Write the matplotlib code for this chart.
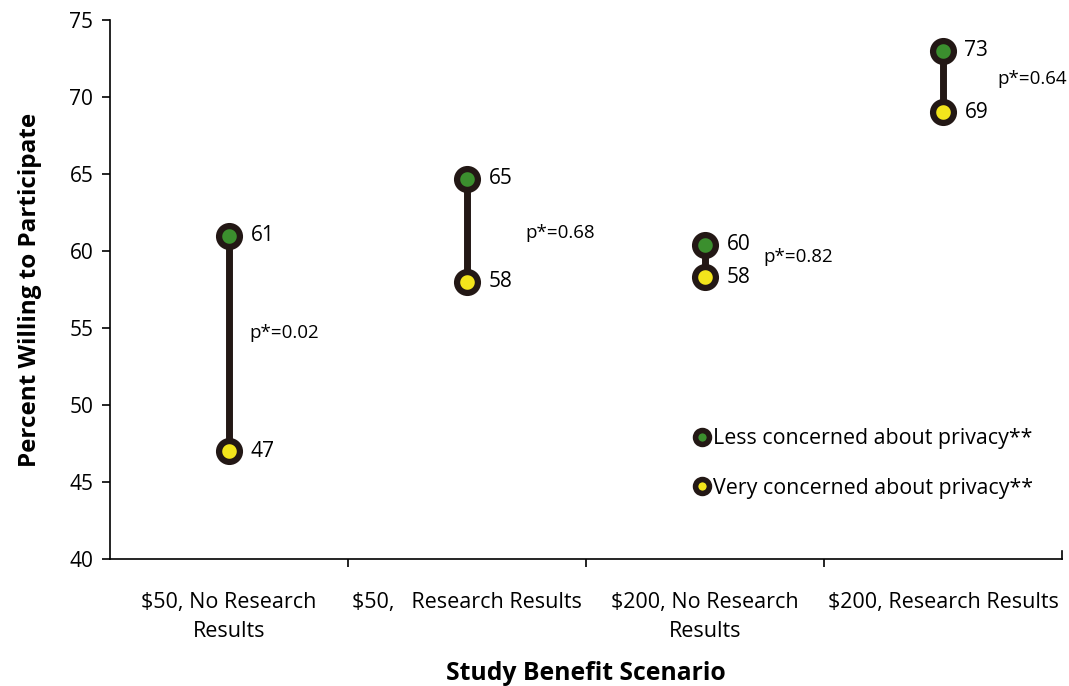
import matplotlib
matplotlib.use("Agg")
import matplotlib.pyplot as plt
from matplotlib.lines import Line2D

plt.rcParams['font.family'] = ['Open Sans', 'DejaVu Sans']

# data
scenarios = ["$50, No Research\nResults", "$50,   Research Results",
             "$200, No Research\nResults", "$200, Research Results"]
less_concerned = [61, 64.7, 60.4, 73]
very_concerned = [47, 58, 58.3, 69]
less_labels = ["61", "65", "60", "73"]
very_labels = ["47", "58", "58", "69"]
p_values = ["p*=0.02", "p*=0.68", "p*=0.82", "p*=0.64"]
p_y = [54.7, 61.2, 59.6, 71.2]
p_dx = [0.085, 0.245, 0.245, 0.23]

dark = "#231815"
green = "#3b8f2e"
yellow = "#f3e51c"

fig = plt.figure(figsize=(10.69, 6.86), dpi=100)
ax = fig.add_axes([0.1029, 0.1851, 0.8906, 0.7857])

x = list(range(len(scenarios)))
for i in x:
    ax.plot([i, i], [very_concerned[i], less_concerned[i]], color=dark, lw=5, zorder=1)
ax.plot(x, less_concerned, 'o', ms=15, mfc=green, mec=dark, mew=4.5, ls='none', zorder=3)
ax.plot(x, very_concerned, 'o', ms=15, mfc=yellow, mec=dark, mew=4.5, ls='none', zorder=3)

for i in x:
    ax.text(i + 0.09, less_concerned[i], less_labels[i], fontsize=15, va='center', ha='left')
    ax.text(i + 0.09, very_concerned[i], very_labels[i], fontsize=15, va='center', ha='left')
    ax.text(i + p_dx[i], p_y[i], p_values[i], fontsize=13.5, va='center', ha='left')

ax.set_xlim(-0.5, 3.5)
ax.set_ylim(40, 75)
ax.set_yticks(range(40, 76, 5))
ax.set_xticks(x)
ax.set_xticklabels(scenarios, fontsize=15.5, linespacing=1.45)
ax.set_xticks([0.5, 1.5, 2.5], minor=True)
ax.tick_params(axis='x', which='major', length=0, pad=24)
ax.tick_params(axis='x', which='minor', length=6, width=1.2, direction='out')
ax.tick_params(axis='y', labelsize=15, length=6, width=1.2, direction='out', pad=6)
# small upward tick closing the x axis on the right
ax.plot([3.5, 3.5], [40, 40.5], color='black', lw=1.2, clip_on=False)

for s in ['top', 'right']:
    ax.spines[s].set_visible(False)
for s in ['left', 'bottom']:
    ax.spines[s].set_linewidth(1.2)
    ax.spines[s].set_color('black')

ax.set_ylabel("Percent Willing to Participate", fontsize=17.5, fontweight='bold', labelpad=20)
ax.set_xlabel("Study Benefit Scenario", fontsize=17.8, fontweight='bold', labelpad=14)

handles = [
    Line2D([], [], marker='o', ms=10, mfc=green, mec=dark, mew=4, ls='none'),
    Line2D([], [], marker='o', ms=10, mfc=yellow, mec=dark, mew=4, ls='none'),
]
ax.legend(handles, ["Less concerned about privacy**", "Very concerned about privacy**"],
          loc='upper left', bbox_to_anchor=(0.611, 0.243), frameon=False,
          fontsize=15.4, handletextpad=0.0, handlelength=1.0, labelspacing=1.35,
          borderaxespad=0, borderpad=0)

fig.savefig("out.png", dpi=100)
